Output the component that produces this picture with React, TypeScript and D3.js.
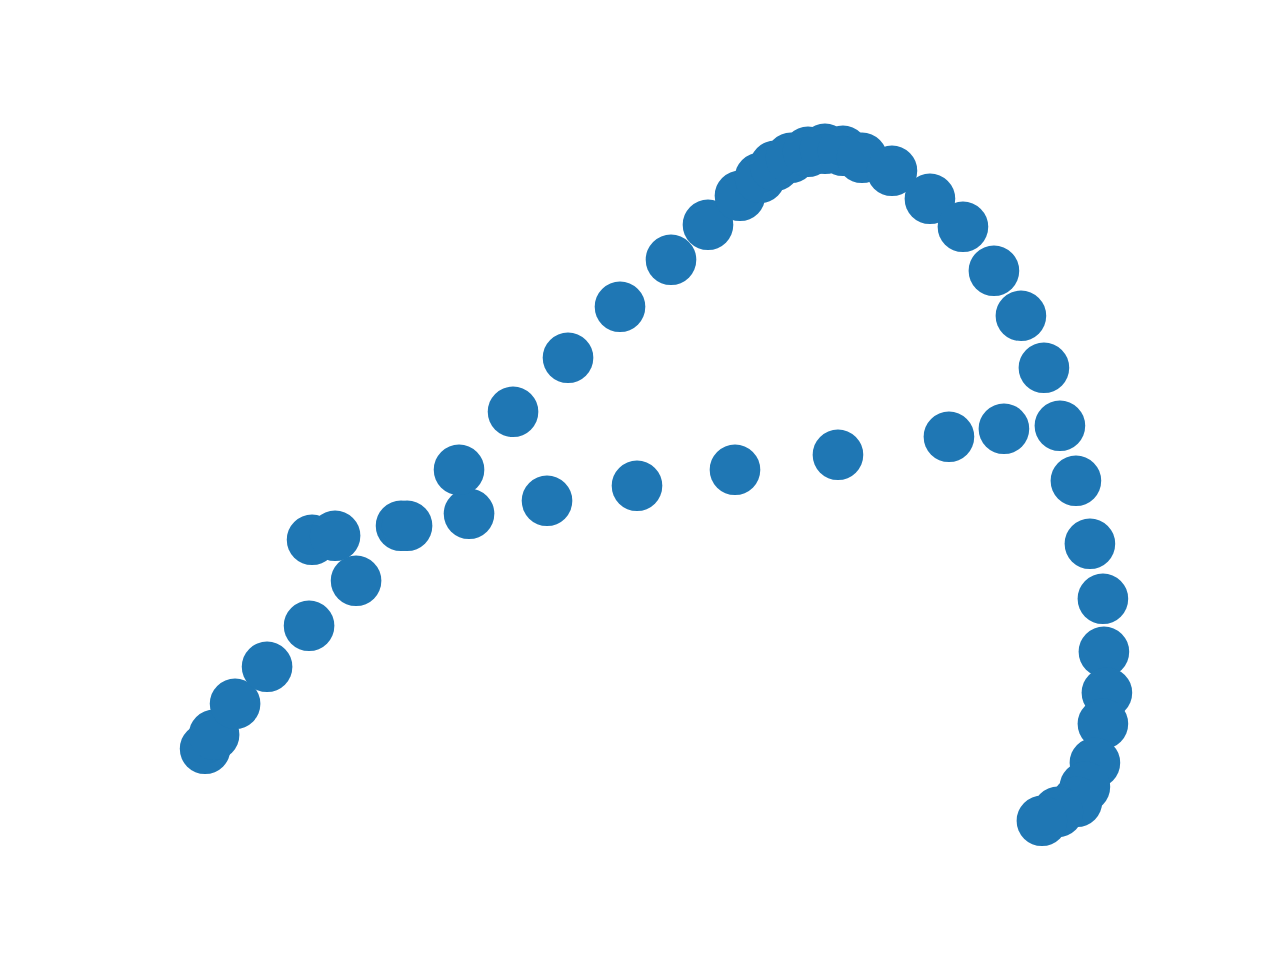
import React from 'react';
import { scaleLinear, extent } from 'd3';

// scatter values (arbitrary units, y up)
const xValues = [
  205, 214, 235, 267, 309, 356, 312, 335, 401, 407,
  469, 459, 547, 513, 637, 568, 735, 838, 620, 949,
  671, 1004, 708, 1060, 740, 760, 775, 791, 808, 825,
  843, 862, 892, 930, 963, 994, 1021, 1044, 1076, 1090,
  1103, 1104, 1107, 1103, 1095, 1085, 1077, 1058, 1042,
];
const yValues = [
  211, 225, 256, 293, 334, 379, 420, 424, 434, 434,
  446, 490, 459, 548, 474, 602, 490, 505, 653, 523,
  700, 531, 735, 534, 764, 782, 794, 802, 808, 811,
  809, 802, 789, 761, 733, 689, 644, 592, 479, 416,
  361, 308, 267, 236, 197, 173, 158, 148, 139,
];

const points = xValues.map((x, i) => ({ x, y: yValues[i] }));

function App() {
  const width = 1280;
  const height = 960;
  const left = 160, right = 1152, top = 115.2, bottom = 854.4;

  const [x0, x1] = extent(xValues) as [number, number];
  const [y0, y1] = extent(yValues) as [number, number];
  const mx = (x1 - x0) * 0.05;
  const my = (y1 - y0) * 0.05;

  const xScale = scaleLinear().domain([x0 - mx, x1 + mx]).range([left, right]);
  const yScale = scaleLinear().domain([y0 - my, y1 + my]).range([bottom, top]);

  return (
    <svg width={width} height={height} style={{ display: 'block', position: 'absolute', left: 0, top: 0 }}>
      <rect width={width} height={height} fill="#ffffff" />
      {points.map((d, i) => (
        <circle key={i} cx={xScale(d.x)} cy={yScale(d.y)} r={25.3} fill="#1f77b4" />
      ))}
    </svg>
  );
}

export default App;
